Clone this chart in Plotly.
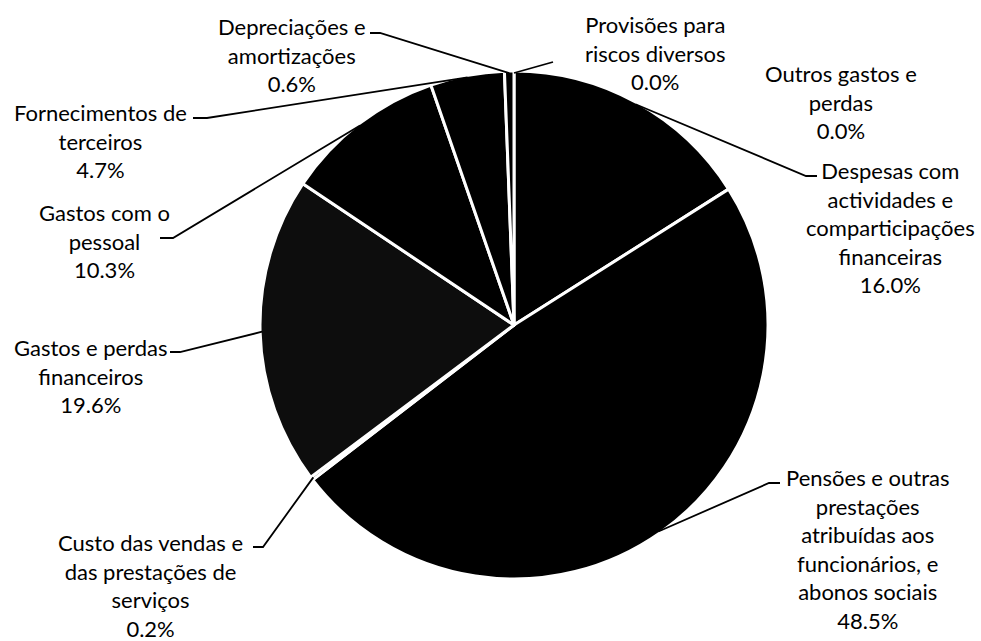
import math
import plotly.graph_objects as go

# ---- data (clockwise from 12 o'clock) ----
categories = [
    "Provisões para<br>riscos diversos",
    "Outros gastos e<br>perdas",
    "Despesas com<br>actividades e<br>comparticipações<br>financeiras",
    "Pensões e outras<br>prestações<br>atribuídas aos<br>funcionários, e<br>abonos sociais",
    "Custo das vendas e<br>das prestações de<br>serviços",
    "Gastos e perdas<br>financeiros",
    "Gastos com o<br>pessoal",
    "Fornecimentos de<br>terceiros",
    "Depreciações e<br>amortizações",
]
percent_values = [0.0, 0.0, 16.0, 48.5, 0.2, 19.6, 10.3, 4.7, 0.6]
slice_colors = ["#000000", "#000000", "#000000", "#000000", "#000000",
                "#0d0d0d", "#000000", "#000000", "#000000"]

# ---- layout (pixels) ----
W, H = 981, 641
CX, CY, R = 514, 325, 254
FONT = dict(family="Lato, 'Liberation Sans', sans-serif", size=22, color="black")

# label block: (center x, center y of block)
label_pos = [
    (655, 53),
    (841, 102),
    (890, 227),
    (867, 549),
    (150, 585),
    (90, 376),
    (104, 241),
    (100, 141),
    (292, 55),
]
# leader: (start x, start y, elbow x) or None ; start is the text-side end
leader = [
    (553, 62, None),
    None,
    (817, 176, 806),
    (780, 483, 769),
    (253, 547, 263),
    (170, 352, 180),
    (160, 238, 173),
    (193, 118, 207),
    (370, 33, 380),
]


def px(x):
    return x / W


def py(y):
    return 1 - y / H


fig = go.Figure(go.Pie(
    labels=[c.replace("<br>", " ") for c in categories],
    values=percent_values,
    sort=False,
    direction="clockwise",
    rotation=0,
    textinfo="none",
    hoverinfo="label+percent",
    marker=dict(colors=slice_colors, line=dict(color="white", width=3)),
    domain=dict(x=[px(CX - R), px(CX + R)], y=[py(CY + R), py(CY - R)]),
    showlegend=False,
))

total = sum(percent_values)
shapes = []
annotations = []
cum = 0.0
for i, v in enumerate(percent_values):
    mid = (cum + v / 2) / total * 2 * math.pi
    cum += v
    ex = CX + (R - 2) * math.sin(mid)
    ey = CY - (R - 2) * math.cos(mid)
    lx, ly = label_pos[i]
    annotations.append(dict(
        x=px(lx), y=py(ly), xref="paper", yref="paper",
        text=f"{categories[i]}<br>{v:.1f}%",
        showarrow=False, font=FONT, align="center",
        xanchor="center", yanchor="middle",
    ))
    if leader[i] is not None:
        sx, sy, elx = leader[i]
        if elx is None:
            path = f"M {px(sx)},{py(sy)} L {px(ex)},{py(ey)}"
        else:
            path = (f"M {px(sx)},{py(sy)} L {px(elx)},{py(sy)} "
                    f"L {px(ex)},{py(ey)}")
        shapes.append(dict(type="path", xref="paper", yref="paper", path=path,
                           line=dict(color="black", width=1.8)))

fig.update_layout(
    width=W, height=H,
    margin=dict(l=0, r=0, t=0, b=0),
    paper_bgcolor="white", plot_bgcolor="white",
    shapes=shapes, annotations=annotations,
    font=FONT,
)

fig.write_html(
    "out.html",
    config={"displayModeBar": False},
    post_script="document.body.style.margin='0';document.body.style.overflow='hidden';",
)
